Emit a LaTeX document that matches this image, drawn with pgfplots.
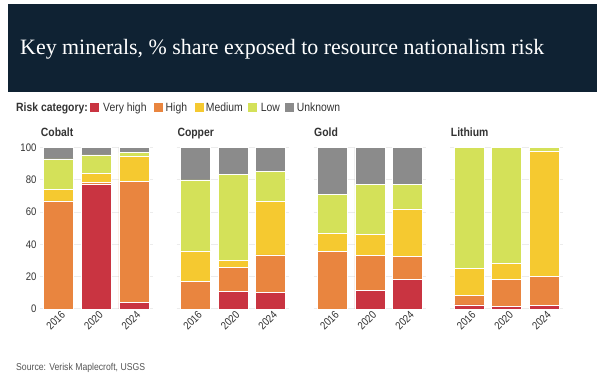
\documentclass[border=0pt]{standalone}
\usepackage{fontspec}
\setmainfont[FakeStretch=0.87]{Liberation Sans}
\newfontfamily\titlefont{Liberation Serif}
\usepackage{pgfplots}
\usepackage{pgfplotstable}
\pgfplotsset{compat=1.18}

\definecolor{vhigh}{HTML}{C93441}
\definecolor{high}{HTML}{E9853F}
\definecolor{medium}{HTML}{F5C930}
\definecolor{low}{HTML}{D4E159}
\definecolor{unk}{HTML}{8B8B8B}
\definecolor{banner}{HTML}{0F2233}
\definecolor{labelgray}{HTML}{333333}
\definecolor{gridgray}{HTML}{ECECEC}
\definecolor{srcgray}{HTML}{555555}

\pgfplotstableread{
x vh h m l u
0 0 67 7 19 7
1 77 1.5 5.5 11.5 4.5
2 4 75 15.5 2.5 3
}\cobalt
\pgfplotstableread{
x vh h m l u
0 0 17 19 44 20
1 11 15 4 53.5 16.5
2 10.5 23 33 19 14.5
}\copper
\pgfplotstableread{
x vh h m l u
0 0 35.5 11.5 24 29
1 11.5 21.5 13 31 23
2 18.5 14 29.5 15 23
}\gold
\pgfplotstableread{
x vh h m l u
0 2.5 6 16.5 75 0
1 1.5 17 10 71.5 0
2 2 18 78 2 0
}\lithium

\pgfplotsset{
  mineral/.style={
    scale only axis, width=112.8bp, height=161.3bp,
    anchor=south west,
    ybar stacked, bar width=30bp,
    xmin=-0.5, xmax=2.5, ymin=0, ymax=100,
    xtick={0,1,2}, xticklabels={2016,2020,2024},
    ytick={0,20,40,60,80,100},
    x tick label style={rotate=45, anchor=east, xshift=4bp, yshift=-6bp, font=\fontsize{11}{11}\selectfont, text=labelgray},
    y tick label style={font=\fontsize{11}{11}\selectfont, text=labelgray},
    ymajorgrids, grid style={draw=gridgray, line width=1bp},
    axis line style={draw=none}, major tick length=0pt,
    /pgf/number format/assume math mode=true,
    every axis plot/.append style={draw=white, line width=0.7bp},
  },
}

\newcommand{\mineralplots}[1]{%
  \addplot[fill=vhigh] table[x=x,y=vh]{#1};
  \addplot[fill=high] table[x=x,y=h]{#1};
  \addplot[fill=medium] table[x=x,y=m]{#1};
  \addplot[fill=low] table[x=x,y=l]{#1};
  \addplot[fill=unk] table[x=x,y=u]{#1};
}

\begin{document}
\begin{tikzpicture}
\fill[white] (0,0) rectangle (602bp,377bp);
\fill[banner] (8bp,285bp) rectangle (597bp,373bp);
\node[anchor=base west, text=white, inner sep=0pt, font=\titlefont\fontsize{22}{24}\selectfont] at (20bp,322bp) {Key minerals, \% share exposed to resource nationalism risk};

% legend
\node[anchor=base west, inner sep=0pt, font=\bfseries\fontsize{12}{12}\selectfont, text=labelgray] at (16bp,265bp) {Risk category:};
\fill[vhigh] (90bp,265bp) rectangle (99bp,274bp);
\node[anchor=base west, inner sep=0pt, font=\fontsize{12}{12}\selectfont, text=labelgray] at (103bp,265bp) {Very high};
\fill[high] (153.5bp,265bp) rectangle (162.5bp,274bp);
\node[anchor=base west, inner sep=0pt, font=\fontsize{12}{12}\selectfont, text=labelgray] at (165.5bp,265bp) {High};
\fill[medium] (195bp,265bp) rectangle (204bp,274bp);
\node[anchor=base west, inner sep=0pt, font=\fontsize{12}{12}\selectfont, text=labelgray] at (205.7bp,265bp) {Medium};
\fill[low] (247.7bp,265bp) rectangle (256.7bp,274bp);
\node[anchor=base west, inner sep=0pt, font=\fontsize{12}{12}\selectfont, text=labelgray] at (260.7bp,265bp) {Low};
\fill[unk] (284.7bp,265bp) rectangle (293.7bp,274bp);
\node[anchor=base west, inner sep=0pt, font=\fontsize{12}{12}\selectfont, text=labelgray] at (296.7bp,265bp) {Unknown};

% panel titles
\foreach \t/\xx in {Cobalt/40.7, Copper/177.3, Gold/314, Lithium/450.7}{
  \node[anchor=base west, inner sep=0pt, font=\bfseries\fontsize{12}{12}\selectfont, text=labelgray] at (\xx bp,240.3bp) {\t};
}

\begin{axis}[mineral, at={(39.9bp,68bp)}]
\mineralplots{\cobalt}
\end{axis}
\begin{axis}[mineral, at={(176.7bp,68bp)}, yticklabels={}]
\mineralplots{\copper}
\end{axis}
\begin{axis}[mineral, at={(313.5bp,68bp)}, yticklabels={}]
\mineralplots{\gold}
\end{axis}
\begin{axis}[mineral, at={(450.3bp,68bp)}, yticklabels={}]
\mineralplots{\lithium}
\end{axis}

\node[anchor=base west, inner sep=0pt, font=\fontsize{10}{10}\selectfont, text=srcgray] at (16bp,7bp) {Source: Verisk Maplecroft, USGS};
\end{tikzpicture}
\end{document}
